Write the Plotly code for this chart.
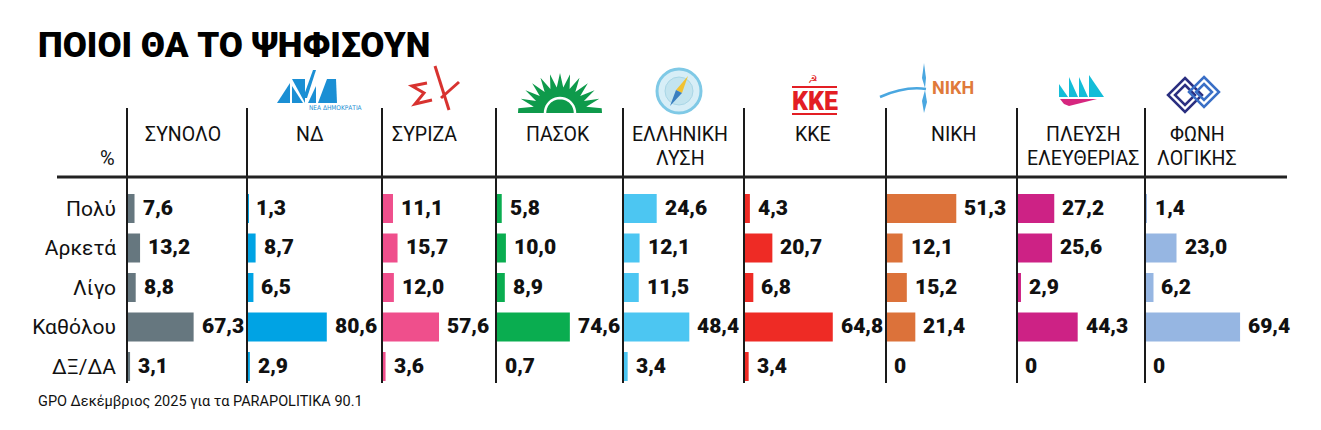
import math
import plotly.graph_objects as go

# ---------------- data ----------------
title = "ΠΟΙΟΙ ΘΑ ΤΟ ΨΗΦΙΣΟΥΝ"
source = "GPO Δεκέμβριος 2025 για τα PARAPOLITIKA 90.1"
responses = ["Πολύ", "Αρκετά", "Λίγο", "Καθόλου", "ΔΞ/ΔΑ"]
parties = ["ΣΥΝΟΛΟ", "ΝΔ", "ΣΥΡΙΖΑ", "ΠΑΣΟΚ", "ΕΛΛΗΝΙΚΗ<br>ΛΥΣΗ", "ΚΚΕ", "ΝΙΚΗ",
           "ΠΛΕΥΣΗ<br>ΕΛΕΥΘΕΡΙΑΣ", "ΦΩΝΗ<br>ΛΟΓΙΚΗΣ"]
synolo = [7.6, 13.2, 8.8, 67.3, 3.1]
nd = [1.3, 8.7, 6.5, 80.6, 2.9]
syriza = [11.1, 15.7, 12.0, 57.6, 3.6]
pasok = [5.8, 10.0, 8.9, 74.6, 0.7]
ell_lysi = [24.6, 12.1, 11.5, 48.4, 3.4]
kke = [4.3, 20.7, 6.8, 64.8, 3.4]
niki = [51.3, 12.1, 15.2, 21.4, 0]
plefsi = [27.2, 25.6, 2.9, 44.3, 0]
foni = [1.4, 23.0, 6.2, 69.4, 0]
series = [synolo, nd, syriza, pasok, ell_lysi, kke, niki, plefsi, foni]

# ---------------- styles / layout ----------------
colors = ["#66777f", "#00a3e4", "#ef4f8c", "#0aad50", "#4cc6f2", "#ee2b25",
          "#dc723a", "#cd2285", "#96b6e2"]
OFF = 8                      # default page margin of the html body
W, H = 1321 - 2 * OFF, 430 - 2 * OFF
col_left = [127, 247, 382, 496, 623, 744, 886, 1017, 1145]
right_end = 1292
px_per_unit = [0.99, 0.99, 0.99, 0.99, 1.37, 1.37, 1.37, 1.37, 1.37]
header_cx = [183, 310, 424, 558, 680, 813, 953, 1083, 1197]
row_top, row_bottom = 188.75, 386.25

FONT = "Roboto, Liberation Sans, sans-serif"
INK = "#111111"


def px(x):
    return (x - OFF) / W


def py(y):
    return 1 - (y - OFF) / H


fig = go.Figure()
layout_axes = {}
annotations = []

for i, (vals, col) in enumerate(zip(series, colors)):
    xname = "x" if i == 0 else f"x{i + 1}"
    axkey = "xaxis" if i == 0 else f"xaxis{i + 1}"
    x0 = col_left[i]
    x1 = col_left[i + 1] if i + 1 < len(col_left) else right_end
    fig.add_trace(go.Bar(
        x=vals, y=responses, orientation="h", xaxis=xname, yaxis="y",
        marker=dict(color=col, line=dict(width=0)), width=0.74,
        hoverinfo="x+y", showlegend=False,
    ))
    layout_axes[axkey] = dict(
        domain=[px(x0), px(x1)], range=[0, (x1 - x0) / px_per_unit[i]],
        anchor="y", visible=False, fixedrange=True,
    )
    for v, r in zip(vals, responses):
        txt = "0" if v == 0 else f"{v:.1f}".replace(".", ",")
        annotations.append(dict(
            x=v, y=r, xref=xname, yref="y", text=txt,
            xanchor="left", yanchor="middle", xshift=6, yshift=1,
            showarrow=False,
            font=dict(family=FONT, size=21, color=INK, weight=900),
        ))
    for k, line in enumerate(parties[i].split("<br>")):
        annotations.append(dict(
            x=px(header_cx[i]), y=py(134 + 24 * k), xref="paper", yref="paper",
            text=line, xanchor="center", yanchor="middle", showarrow=False,
            font=dict(family=FONT, size=19.5, color=INK),
        ))

# title, % and source
annotations.append(dict(x=px(36), y=py(46), xref="paper", yref="paper",
                        text=title, xanchor="left", yanchor="middle",
                        showarrow=False,
                        font=dict(family=FONT, size=35, color="#000000", weight=900)))
annotations.append(dict(x=px(117), y=py(158), xref="paper", yref="paper",
                        text="%", xanchor="right", yanchor="middle",
                        showarrow=False, font=dict(family=FONT, size=20, color=INK)))
annotations.append(dict(x=px(36), y=py(401), xref="paper", yref="paper",
                        text=source, xanchor="left", yanchor="middle",
                        showarrow=False, font=dict(family=FONT, size=14.5, color=INK)))

# ---------------- grid lines ----------------
shapes = []
for x in col_left:
    shapes.append(dict(type="line", xref="paper", yref="paper",
                       x0=px(x), x1=px(x), y0=py(108), y1=py(383),
                       line=dict(color="#1a1a1a", width=2)))
shapes.append(dict(type="line", xref="paper", yref="paper",
                   x0=px(57), x1=px(1287), y0=py(177), y1=py(177),
                   line=dict(color="#222222", width=3)))


# ---------------- logo sketches (decoration) ----------------
def poly(points, fill, line_color=None, lw=0):
    d = "M" + " L".join(f"{px(x):.5f},{py(y):.5f}" for x, y in points) + " Z"
    return dict(type="path", xref="paper", yref="paper", path=d,
                fillcolor=fill, line=dict(color=line_color or fill, width=lw))


def polyline(points, color, lw):
    d = "M" + " L".join(f"{px(x):.5f},{py(y):.5f}" for x, y in points)
    return dict(type="path", xref="paper", yref="paper", path=d,
                line=dict(color=color, width=lw))


# ND
ndc = "#1b8fd4"
shapes += [poly([(277, 103), (290, 103), (290, 83)], ndc),
           poly([(292, 79), (305, 79), (305, 103)], ndc),
           poly([(292, 86), (292, 103), (303, 103)], ndc),
           poly([(318, 103), (337, 103), (336, 79), (327, 79)], ndc),
           poly([(303, 98), (313, 70), (316, 70), (307, 98)], ndc),
           poly([(308, 103), (316, 103), (316, 86)], ndc)]
annotations.append(dict(x=px(307), y=py(108), xref="paper", yref="paper",
                        text="ΝΕΑ ΔΗΜΟΚΡΑΤΙΑ", showarrow=False, yanchor="middle",
                        font=dict(family="DejaVu Sans Condensed, DejaVu Sans", size=6.5,
                                  color=ndc)))
# SYRIZA
sc = "#d8322f"
shapes += [polyline([(427, 83), (412, 86), (424, 93), (415, 104), (432, 100)], sc, 3),
           polyline([(435, 66), (449, 110)], sc, 3),
           polyline([(459, 82), (441, 98)], sc, 3)]
# PASOK sun
pc = "#0e9a4b"
cx, cy = 560, 113
pts = []
n = 13
for k in range(2 * n + 1):
    a = math.pi * k / (2 * n)
    r = 42 if k % 2 == 1 else 27
    pts.append((cx + r * math.cos(a), cy - r * math.sin(a) * 0.95))
pts[0] = (cx + 42, cy)
pts[-1] = (cx - 42, cy)
shapes.append(poly(pts, pc))
arc = [(cx + 15 * math.cos(math.pi * k / 20), cy - 15 * math.sin(math.pi * k / 20))
       for k in range(21)]
shapes.append(polyline(arc, "white", 2.5))
# ELLINIKI LYSI compass
shapes.append(dict(type="circle", xref="paper", yref="paper",
                   x0=px(657), x1=px(701), y0=py(113), y1=py(69),
                   fillcolor="#d7eef7", line=dict(color="#7fc9e6", width=3)))
shapes.append(dict(type="circle", xref="paper", yref="paper",
                   x0=px(665), x1=px(693), y0=py(105), y1=py(77),
                   fillcolor="#c3e4ef", line=dict(color="#a9d6e6", width=1)))
shapes.append(poly([(688, 76), (682, 93), (676, 90)], "#f1c232"))
shapes.append(poly([(670, 106), (676, 90), (682, 93)], "#3a7fc0"))
# KKE
kc = "#e31e24"
shapes.append(dict(type="rect", xref="paper", yref="paper", x0=px(792), x1=px(837),
                   y0=py(88), y1=py(86), fillcolor=kc, line=dict(width=0)))
shapes.append(dict(type="rect", xref="paper", yref="paper", x0=px(792), x1=px(837),
                   y0=py(115), y1=py(113), fillcolor=kc, line=dict(width=0)))
annotations.append(dict(x=px(815), y=py(101), xref="paper", yref="paper",
                        text="ΚΚΕ", showarrow=False, yanchor="middle",
                        font=dict(family=FONT, size=25, color=kc, weight=900)))
annotations.append(dict(x=px(813), y=py(79), xref="paper", yref="paper",
                        text="☭", showarrow=False, yanchor="middle",
                        font=dict(family="DejaVu Sans", size=11, color=kc)))
# NIKH
annotations.append(dict(x=px(930), y=py(88), xref="paper", yref="paper",
                        text="ΝΙΚΗ", showarrow=False, xanchor="left", yanchor="middle",
                        font=dict(family=FONT, size=18, color="#e07a3a", weight=700)))
nb = "#4aa7e0"
shapes.append(dict(type="path", xref="paper", yref="paper",
                   path=f"M{px(880)},{py(97)} Q{px(905)},{py(86)} {px(926)},{py(89)}",
                   line=dict(color=nb, width=2.5)))
shapes.append(poly([(924, 63), (926, 78), (925, 88), (922, 78)], nb))
shapes.append(poly([(925, 90), (927, 102), (924, 113), (922, 101)], nb))
# PLEYSI ELEYTHERIAS
cy_ = "#14bdd8"
for xl, yt, xr in [(1059, 84, 1068), (1069, 77, 1078), (1079, 77, 1088), (1089, 75, 1104)]:
    shapes.append(poly([(xl, yt), (xl, 97), (xr, 97)], cy_))
shapes.append(poly([(1060, 99), (1097, 99), (1069, 106), (1064, 104)], "#d6267f"))
# FONI LOGIKIS
for cxd, cyd, rr, c in [(1185, 95, 17, "#2b2f80"), (1185, 95, 10, "#2b2f80"),
                        (1204, 92, 15, "#3a6fc6"), (1204, 92, 8, "#3a6fc6")]:
    shapes.append(poly([(cxd, cyd - rr), (cxd + rr, cyd), (cxd, cyd + rr), (cxd - rr, cyd)],
                       "rgba(0,0,0,0)", c, 2.5))

fig.update_layout(
    width=W, height=H, margin=dict(l=0, r=0, t=0, b=0),
    paper_bgcolor="white", plot_bgcolor="white",
    barmode="overlay", showlegend=False,
    yaxis=dict(domain=[py(row_bottom), py(row_top)], type="category",
               categoryorder="array", categoryarray=responses,
               range=[len(responses) - 0.5, -0.5], anchor="x",
               showgrid=False, zeroline=False, showline=False, ticks="",
               ticklabelstandoff=10, fixedrange=True,
               tickfont=dict(family=FONT, size=21, color=INK)),
    annotations=annotations, shapes=shapes,
    **layout_axes,
)

fig.write_html("out.html")
